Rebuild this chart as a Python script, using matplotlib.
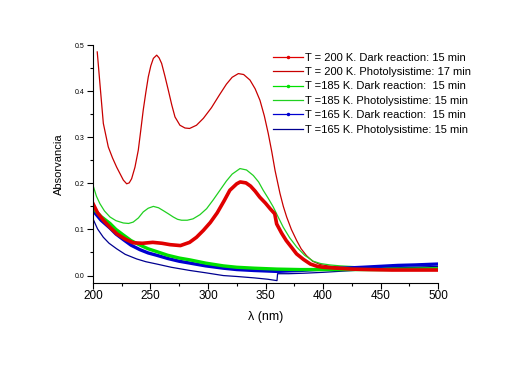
import matplotlib
matplotlib.use("Agg")
import matplotlib.pyplot as plt
from matplotlib.lines import Line2D
from matplotlib.ticker import MultipleLocator

plt.rcParams['font.family'] = ['Liberation Sans', 'DejaVu Sans']

labels = [
    "T = 200 K. Dark reaction: 15 min",
    "T = 200 K. Photolysistime: 17 min",
    "T =185 K. Dark reaction:  15 min",
    "T =185 K. Photolysistime: 15 min",
    "T =165 K. Dark reaction:  15 min",
    "T =165 K. Photolysistime: 15 min",
]

# T=200 K dark reaction
x_r_dark = [200, 204, 209, 215, 221, 228, 235, 243, 252, 260, 267, 276, 284, 290, 296, 302, 308, 314, 319, 325, 328, 333, 337, 341, 345, 350, 354, 358, 359.7, 364, 368, 373, 377, 383, 389, 395, 400, 412, 425, 440, 460, 480, 500]
y_r_dark = [0.156, 0.136, 0.120, 0.104, 0.090, 0.079, 0.071, 0.070, 0.072, 0.070, 0.067, 0.065, 0.072, 0.083, 0.098, 0.115, 0.136, 0.162, 0.185, 0.199, 0.203, 0.201, 0.194, 0.183, 0.170, 0.157, 0.145, 0.134, 0.112, 0.092, 0.076, 0.060, 0.047, 0.035, 0.025, 0.020, 0.018, 0.016, 0.014, 0.013, 0.012, 0.012, 0.012]

# T=200 K photolysis
x_r_phot = [203.7, 206, 209, 213.3, 217, 220.6, 226.4, 229.3, 231.5, 233.6, 236.5, 239.4, 241.5, 243.7, 246, 248.1, 250.3, 252.5, 255.4, 257.5, 259.7, 262.5, 265.5, 268.5, 271.3, 275.6, 280, 284, 290, 296, 303, 310, 316, 321, 326.4, 331, 336.5, 341, 345.2, 349, 352.4, 355.5, 358.3, 362.6, 365.5, 368.4, 372.5, 377.1, 381, 385.7, 391, 397.4, 404, 412, 425, 440, 460, 480, 500]
y_r_phot = [0.485, 0.417, 0.330, 0.279, 0.255, 0.235, 0.207, 0.199, 0.201, 0.210, 0.235, 0.272, 0.314, 0.359, 0.398, 0.431, 0.455, 0.471, 0.478, 0.472, 0.460, 0.433, 0.402, 0.370, 0.344, 0.326, 0.320, 0.319, 0.326, 0.341, 0.364, 0.392, 0.415, 0.430, 0.438, 0.436, 0.424, 0.405, 0.380, 0.346, 0.308, 0.268, 0.228, 0.178, 0.150, 0.127, 0.100, 0.076, 0.058, 0.043, 0.031, 0.024, 0.021, 0.019, 0.018, 0.017, 0.017, 0.016, 0.016]

# T=185 K dark reaction
x_g_dark = [200, 207, 214.8, 220, 226.4, 233, 240.9, 248, 255.4, 265, 275, 284.3, 298, 313.3, 325, 340, 360, 380, 400, 425, 450, 475, 500]
y_g_dark = [0.146, 0.128, 0.113, 0.100, 0.088, 0.076, 0.066, 0.058, 0.052, 0.044, 0.038, 0.034, 0.027, 0.021, 0.018, 0.016, 0.014, 0.013, 0.013, 0.013, 0.013, 0.014, 0.014]

# T=185 K photolysis
x_g_phot = [200, 203, 206, 210, 214.8, 220, 226.4, 231, 235, 239.5, 243.7, 248, 252.5, 257, 261, 265.5, 269.8, 273.5, 277, 282, 287, 293, 298.8, 304.5, 310.4, 316, 321, 327.8, 333.5, 339.4, 344, 348, 352.5, 356.7, 361, 365.4, 371, 377.1, 384, 391.6, 398, 406, 415, 430, 450, 475, 500]
y_g_phot = [0.196, 0.172, 0.156, 0.140, 0.127, 0.119, 0.114, 0.113, 0.116, 0.125, 0.138, 0.146, 0.150, 0.147, 0.141, 0.134, 0.127, 0.122, 0.120, 0.120, 0.123, 0.132, 0.145, 0.164, 0.185, 0.205, 0.220, 0.232, 0.229, 0.217, 0.203, 0.185, 0.167, 0.149, 0.127, 0.105, 0.082, 0.062, 0.044, 0.031, 0.026, 0.023, 0.021, 0.019, 0.018, 0.018, 0.018]

# T=165 K dark reaction
x_b_dark = [200, 207, 214.8, 220, 226.4, 233, 240.9, 248, 255.4, 265, 275, 284.3, 298, 313.3, 325, 340, 360, 380, 400, 418, 435, 450, 465, 480, 500]
y_b_dark = [0.141, 0.120, 0.103, 0.090, 0.078, 0.066, 0.056, 0.049, 0.044, 0.037, 0.031, 0.027, 0.021, 0.016, 0.013, 0.011, 0.009, 0.011, 0.014, 0.016, 0.018, 0.020, 0.022, 0.023, 0.025]

# T=165 K photolysis
x_b_phot = [200, 204, 209, 214, 220.6, 228, 238, 246, 255.4, 268, 284.3, 298, 313.3, 325, 340, 352, 360, 360.5, 370, 383, 400, 420, 440, 460, 480, 500]
y_b_phot = [0.123, 0.101, 0.083, 0.070, 0.058, 0.046, 0.036, 0.030, 0.025, 0.018, 0.011, 0.006, 0.000, -0.002, -0.005, -0.008, -0.011, 0.004, 0.004, 0.005, 0.007, 0.010, 0.013, 0.016, 0.018, 0.020]

red_dark = '#e00000'
red_phot = '#c80000'
green_dark = '#00e000'
green_phot = '#20d020'
blue_dark = '#0000d0'
blue_phot = '#000090'

fig = plt.figure(figsize=(5.18, 3.84), dpi=100)
ax = fig.add_axes([0.1795, 0.2638, 0.6661, 0.619])

ax.plot(x_r_phot, y_r_phot, color=red_phot, lw=0.9)
ax.plot(x_g_phot, y_g_phot, color=green_phot, lw=0.9)
ax.plot(x_b_phot, y_b_phot, color=blue_phot, lw=0.9)
ax.plot(x_b_dark, y_b_dark, color=blue_dark, lw=2.4)
ax.plot(x_g_dark, y_g_dark, color=green_dark, lw=2.4)
ax.plot(x_r_dark, y_r_dark, color=red_dark, lw=2.6)

ax.set_xlim(200, 500)
ax.set_ylim(-0.0155, 0.5)
ax.spines['top'].set_visible(False)
ax.spines['right'].set_visible(False)
ax.spines['left'].set_bounds(-0.0155, 0.5)
ax.xaxis.set_major_locator(MultipleLocator(50))
ax.xaxis.set_minor_locator(MultipleLocator(25))
ax.yaxis.set_major_locator(MultipleLocator(0.1))
ax.yaxis.set_minor_locator(MultipleLocator(0.05))
ax.set_yticks([0.0, 0.1, 0.2, 0.3, 0.4, 0.5])
ax.set_yticklabels(['0.0', '0.1', '0.2', '0.3', '0.4', '0.5'])
ax.tick_params(axis='x', which='major', direction='out', length=4, width=0.8, labelsize=8.5, pad=1.5)
ax.tick_params(axis='x', which='minor', direction='out', length=2.5, width=0.8)
ax.tick_params(axis='y', which='major', direction='out', length=4, width=0.8, labelsize=5, pad=2)
ax.tick_params(axis='y', which='minor', direction='out', length=2.5, width=0.8)

ax.set_xlabel('λ (nm)', fontsize=9, labelpad=6)
ax.set_ylabel('Absorvancia', fontsize=8, labelpad=8)

handles = [
    Line2D([0, 0.5, 1], [0, 0, 0], color=red_dark, lw=0.9, marker='.', markersize=3, markevery=[1]),
    Line2D([], [], color=red_phot, lw=0.9),
    Line2D([0, 0.5, 1], [0, 0, 0], color=green_dark, lw=0.9, marker='.', markersize=3, markevery=[1]),
    Line2D([], [], color=green_phot, lw=0.9),
    Line2D([0, 0.5, 1], [0, 0, 0], color=blue_dark, lw=0.9, marker='.', markersize=3, markevery=[1]),
    Line2D([], [], color=blue_phot, lw=0.9),
]
leg = ax.legend(handles, labels, loc='upper left', bbox_to_anchor=(0.510, 0.987),
                frameon=False, fontsize=8, handlelength=2.7, handletextpad=0.15,
                labelspacing=0.4, borderaxespad=0)

fig.savefig('out.png', dpi=100)
